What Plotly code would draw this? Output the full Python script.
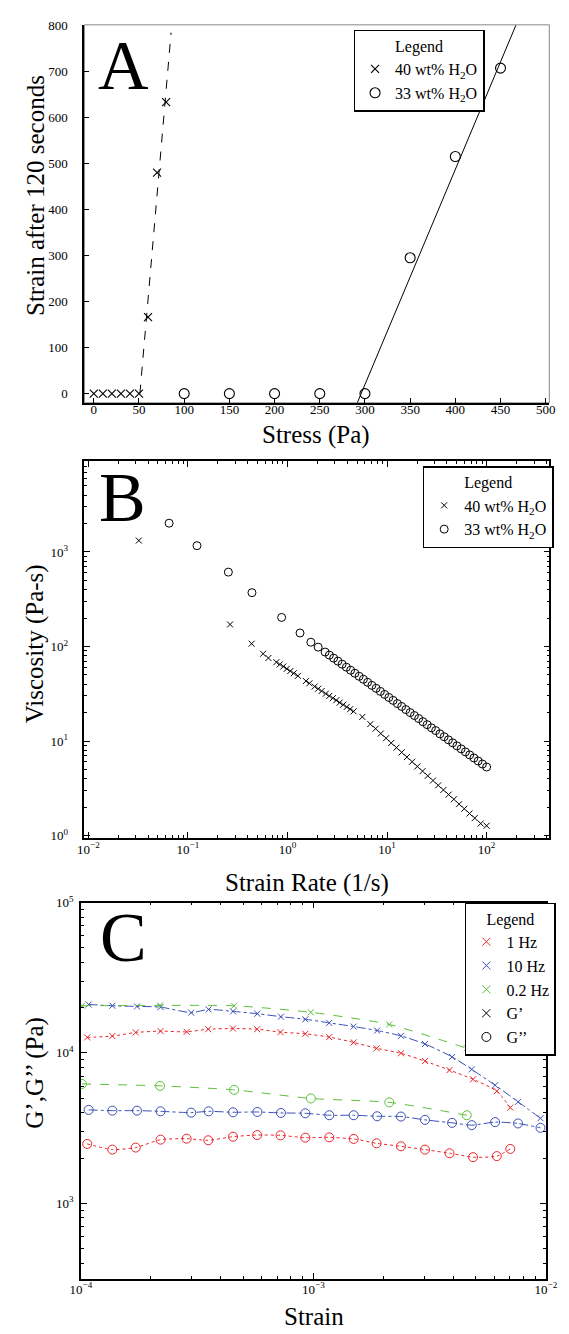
import plotly.graph_objects as go

W, H = 569, 1334
SERIF = "Liberation Serif"

# ---------------- Panel A data ----------------
a_stress_40 = [0, 10, 20, 30, 40, 50, 60, 70, 80]
a_strain_40 = [0, 0, 0, 0, 0, 0, 166, 480, 633]
a_stress_33 = [100, 150, 200, 250, 300, 350, 400, 450]
a_strain_33 = [0, 0, 0, 0, 0, 295, 515, 707]
a_fit_stress_40 = [51, 85.5]
a_fit_strain_40 = [0, 784]
a_fit_stress_33 = [291.5, 467]
a_fit_strain_33 = [-20, 800]
a_xticks = [0, 50, 100, 150, 200, 250, 300, 350, 400, 450, 500]
a_yticks = [0, 100, 200, 300, 400, 500, 600, 700, 800]

# ---------------- Panel B data ----------------
b_rate_40 = [0.0321, 0.265, 0.436, 0.569, 0.643, 0.773, 0.838, 0.908, 0.984, 1.067,
             1.156, 1.274, 1.531, 1.660, 1.874, 2.032, 2.202, 2.426, 2.630, 2.851,
             3.090, 3.345, 3.624, 3.929, 4.258, 4.616, 5.649, 6.79, 7.67, 8.65,
             9.77, 11.02, 12.43, 14.02, 15.82, 17.85, 20.14, 22.73, 25.64, 28.94,
             32.65, 36.84, 41.56, 46.90, 52.92, 59.71, 67.38, 76.03, 87.2, 100]
b_visc_40 = [1320, 171, 107, 83.8, 75.5, 68.2, 64.7, 61.4, 58.1, 55.0,
             52.1, 48.9, 43.1, 40.8, 37.7, 35.7, 33.8, 31.7, 30.0, 28.4,
             27.0, 25.5, 24.2, 22.9, 21.7, 20.6, 18.0, 15.1, 13.5, 12.0,
             10.7, 9.54, 8.51, 7.59, 6.76, 6.04, 5.38, 4.80, 4.28, 3.82,
             3.40, 3.04, 2.71, 2.42, 2.15, 1.92, 1.71, 1.53, 1.34, 1.27]
b_rate_33 = [0.0647, 0.1233, 0.2547, 0.4395, 0.873, 1.336, 1.716, 2.032,
             2.388, 2.634, 2.907, 3.207, 3.538, 3.904, 4.307, 4.752, 5.244, 5.786,
             6.383, 7.042, 7.770, 8.573, 9.459, 10.43, 11.51, 12.70, 14.02, 15.46,
             17.06, 18.83, 20.77, 22.92, 25.28, 27.90, 30.78, 33.96, 37.47, 41.34,
             45.60, 50.31, 55.51, 61.24, 67.57, 74.55, 82.25, 90.74, 100]
b_visc_33 = [2015, 1165, 612, 371, 203, 139, 111, 98.4,
             87.3, 81.1, 75.3, 70.0, 65.0, 60.4, 56.1, 52.1, 48.4, 45.0,
             41.8, 38.8, 36.1, 33.5, 31.1, 28.9, 26.9, 24.9, 23.2, 21.5,
             20.0, 18.6, 17.3, 16.0, 14.9, 13.8, 12.9, 11.9, 11.1, 10.3,
             9.57, 8.89, 8.26, 7.67, 7.13, 6.62, 6.15, 5.71, 5.31]
b_xticks = [0.01, 0.1, 1, 10, 100]
b_xticktext = ["10<sup>−2</sup>", "10<sup>−1</sup>", "10<sup>0</sup>", "10<sup>1</sup>", "10<sup>2</sup>"]
b_yticks = [1, 10, 100, 1000]
b_yticktext = ["10<sup>0</sup>", "10<sup>1</sup>", "10<sup>2</sup>", "10<sup>3</sup>"]

# ---------------- Panel C data ----------------
c_strain_1hz = [1.064e-4, 1.365e-4, 1.72e-4, 2.20e-4, 2.85e-4, 3.53e-4, 4.51e-4, 5.73e-4,
                7.22e-4, 9.23e-4, 1.17e-3, 1.49e-3, 1.87e-3, 2.38e-3, 3.02e-3, 3.85e-3,
                4.86e-3, 6.15e-3, 7.03e-3]
c_gp_1hz = [12680, 12940, 13680, 13960, 13810, 14380, 14530, 14380, 13740, 13400,
            12740, 11750, 10730, 9950, 8820, 7690, 6680, 5570, 4330]
c_gpp_1hz = [2483, 2277, 2348, 2651, 2691, 2626, 2775, 2845, 2831, 2731,
             2745, 2680, 2506, 2395, 2277, 2153, 2027, 2060, 2300]
c_strain_10hz = [1.079e-4, 1.365e-4, 1.742e-4, 2.20e-4, 2.98e-4, 3.54e-4, 4.51e-4, 5.74e-4,
                 7.25e-4, 9.23e-4, 1.17e-3, 1.49e-3, 1.88e-3, 2.38e-3, 3.02e-3, 3.95e-3,
                 4.80e-3, 6.05e-3, 7.59e-3, 9.48e-3]
c_gp_10hz = [20990, 20590, 20380, 20170, 18530, 19470, 18890, 18230, 17420, 16740,
             15840, 14980, 14090, 12990, 11460, 9410, 7770, 6100, 4730, 3680]
c_gpp_10hz = [4180, 4133, 4133, 4090, 4009, 4090, 4031, 4050, 3990, 3970,
              3852, 3852, 3793, 3776, 3589, 3428, 3310, 3467, 3397, 3177]
c_strain_02hz = [1.01e-4, 2.19e-4, 4.56e-4, 9.75e-4, 2.12e-3, 4.57e-3]
c_gp_02hz = [20590, 20700, 20590, 18620, 15460, 10730]
c_gpp_02hz = [6220, 6040, 5680, 4980, 4690, 3852]
c_xticks = [1e-4, 1e-3, 1e-2]
c_xticktext = ["10<sup>−4</sup>", "10<sup>−3</sup>", "10<sup>−2</sup>"]
c_yticks = [1e3, 1e4, 1e5]
c_yticktext = ["10<sup>3</sup>", "10<sup>4</sup>", "10<sup>5</sup>"]

RED, BLUE, GREEN = "#e8262b", "#3a4fb8", "#5cbf3a"


def fx(p):
    return p / W


def fy(p):
    return 1 - p / H


def minor_vals(lo, hi):
    return [m * 10 ** e for e in range(lo, hi) for m in range(2, 10)]


fig = go.Figure()

# ---- Panel A traces ----
fig.add_trace(go.Scatter(x=a_fit_stress_40, y=a_fit_strain_40, mode="lines",
                         line=dict(color="black", width=1, dash="dash"),
                         showlegend=False, xaxis="x", yaxis="y", hoverinfo="skip"))
fig.add_trace(go.Scatter(x=a_fit_stress_33, y=a_fit_strain_33, mode="lines",
                         line=dict(color="black", width=1),
                         showlegend=False, xaxis="x", yaxis="y", hoverinfo="skip"))
fig.add_trace(go.Scatter(x=a_stress_40, y=a_strain_40, mode="markers",
                         name="40 wt% H<sub>2</sub>O",
                         marker=dict(symbol="x-thin-open", size=8, color="black",
                                     line=dict(width=1.1, color="black")),
                         xaxis="x", yaxis="y", legend="legend"))
fig.add_trace(go.Scatter(x=a_stress_33, y=a_strain_33, mode="markers",
                         name="33 wt% H<sub>2</sub>O",
                         marker=dict(symbol="circle-open", size=10, color="black",
                                     line=dict(width=1.1, color="black")),
                         xaxis="x", yaxis="y", legend="legend"))

# ---- Panel B traces ----
fig.add_trace(go.Scatter(x=b_rate_40, y=b_visc_40, mode="markers",
                         name="40 wt% H<sub>2</sub>O",
                         marker=dict(symbol="x-thin-open", size=6, color="black",
                                     line=dict(width=1, color="black")),
                         xaxis="x2", yaxis="y2", legend="legend2"))
fig.add_trace(go.Scatter(x=b_rate_33, y=b_visc_33, mode="markers",
                         name="33 wt% H<sub>2</sub>O",
                         marker=dict(symbol="circle-open", size=8, color="black",
                                     line=dict(width=1, color="black")),
                         xaxis="x2", yaxis="y2", legend="legend2"))

# ---- Panel C traces ----
series_c = [
    (c_strain_1hz, c_gp_1hz, c_gpp_1hz, RED, "dot"),
    (c_strain_10hz, c_gp_10hz, c_gpp_10hz, BLUE, "dashdot"),
    (c_strain_02hz, c_gp_02hz, c_gpp_02hz, GREEN, "dash"),
]
for xs, gp, gpp, col, dash in series_c:
    fig.add_trace(go.Scatter(x=xs, y=gp, mode="lines+markers",
                             line=dict(color=col, width=1, dash=dash, shape="spline", smoothing=0.6),
                             marker=dict(symbol="x-thin-open", size=6, color=col,
                                         line=dict(width=1, color=col)),
                             showlegend=False, xaxis="x3", yaxis="y3"))
    fig.add_trace(go.Scatter(x=xs, y=gpp, mode="lines+markers",
                             line=dict(color=col, width=1, dash=dash, shape="spline", smoothing=0.6),
                             marker=dict(symbol="circle-open", size=9, color=col,
                                         line=dict(width=1, color=col)),
                             showlegend=False, xaxis="x3", yaxis="y3"))

legend_c = [("1 Hz", RED, "x-thin-open"), ("10 Hz", BLUE, "x-thin-open"),
            ("0.2 Hz", GREEN, "x-thin-open"), ("G’", "black", "x-thin-open"),
            ("G’’", "black", "circle-open")]
for name, col, sym in legend_c:
    fig.add_trace(go.Scatter(x=[None], y=[None], mode="markers", name=name,
                             marker=dict(symbol=sym, size=8 if "x" in sym else 9, color=col,
                                         line=dict(width=1, color=col)),
                             xaxis="x3", yaxis="y3", legend="legend3"))

tickfont = dict(family=SERIF, size=13, color="black")

common = dict(showgrid=False, zeroline=False, showline=True, linecolor="black",
              ticks="inside", tickcolor="black", tickfont=tickfont)

layout = dict(
    width=W, height=H,
    margin=dict(l=0, r=0, t=0, b=0),
    paper_bgcolor="white", plot_bgcolor="white",
    font=dict(family=SERIF, color="black"),
    xaxis=dict(common, domain=[fx(76.5), fx(561)], range=[-10.4, 504], anchor="y",
               tickmode="array", tickvals=a_xticks, ticklen=5, linewidth=2, mirror=False,
               ticklabelstandoff=-6),
    yaxis=dict(common, domain=[fy(398), fy(16)], range=[-20, 801], anchor="x",
               tickmode="array", tickvals=a_yticks, ticklen=5, linewidth=2, mirror=False,
               ticklabelstandoff=12),
    xaxis2=dict(common, type="log", domain=[fx(76.5), fx(561)], range=[-2.04, 2.63], anchor="y2",
                tickmode="array", tickvals=b_xticks, ticktext=b_xticktext, ticklen=6,
                linewidth=1.5, mirror="allticks", ticklabelstandoff=-2,
                minor=dict(ticks="inside", ticklen=3, tickcolor="black",
                           tickmode="array", tickvals=minor_vals(-3, 3))),
    yaxis2=dict(common, type="log", domain=[fy(838), fy(457)], range=[-0.028, 3.96], anchor="x2",
                tickmode="array", tickvals=b_yticks, ticktext=b_yticktext, ticklen=6,
                linewidth=1.5, mirror="allticks", ticklabelstandoff=12,
                minor=dict(ticks="inside", ticklen=3, tickcolor="black",
                           tickmode="array", tickvals=minor_vals(-1, 4))),
    xaxis3=dict(common, type="log", domain=[fx(72.9), fx(557.4)], range=[-4, -2], anchor="y3",
                tickmode="array", tickvals=c_xticks, ticktext=c_xticktext, ticklen=6,
                linewidth=1.5, mirror="allticks", ticklabelstandoff=-2,
                minor=dict(ticks="inside", ticklen=3, tickcolor="black",
                           tickmode="array", tickvals=minor_vals(-5, -1))),
    yaxis3=dict(common, type="log", domain=[fy(1283), fy(903)], range=[2.5, 5], anchor="x3",
                tickmode="array", tickvals=c_yticks, ticktext=c_yticktext, ticklen=6,
                linewidth=1.5, mirror="allticks", ticklabelstandoff=3,
                minor=dict(ticks="inside", ticklen=3, tickcolor="black",
                           tickmode="array", tickvals=minor_vals(2, 5))),
)

leg_common = dict(bgcolor="white", bordercolor="black", borderwidth=1.5,
                  font=dict(family=SERIF, size=16, color="black"),
                  xanchor="left", yanchor="top", tracegroupgap=0, itemwidth=30,
                  title=dict(text="Legend", side="top center",
                             font=dict(family=SERIF, size=16, color="black")))
layout["legend"] = dict(leg_common, x=fx(357), y=fy(21))
layout["legend2"] = dict(leg_common, x=fx(429), y=fy(462))
layout["legend3"] = dict(leg_common, x=fx(473), y=fy(903))

fig.update_layout(**layout)

# grey frame on the top/right of panel A
fig.add_shape(type="rect", xref="x domain", yref="y domain", x0=0, x1=1, y0=0, y1=1,
              line=dict(color="#888888", width=1), layer="below")

ann = []


def add_text(text, px, py, size, angle=0):
    ann.append(dict(text=text, x=fx(px), y=fy(py), xref="paper", yref="paper",
                    showarrow=False, textangle=angle, xanchor="center", yanchor="middle",
                    font=dict(family=SERIF, size=size, color="black")))


add_text("A", 117, 57, 70)
add_text("B", 116, 494, 70)
add_text("C", 117, 938, 70)
add_text("Strain after 120 seconds", 25, 188, 25, -90)
add_text("Stress (Pa)", 318, 431, 25)
add_text("Viscosity (Pa-s)", 25, 641, 25, -90)
add_text("Strain Rate (1/s)", 308, 883, 25)
add_text("G’,G’’ (Pa)", 25, 1075, 25, -90)
add_text("Strain", 316, 1321, 25)
fig.update_layout(annotations=ann)

fig.write_html("out.html")
